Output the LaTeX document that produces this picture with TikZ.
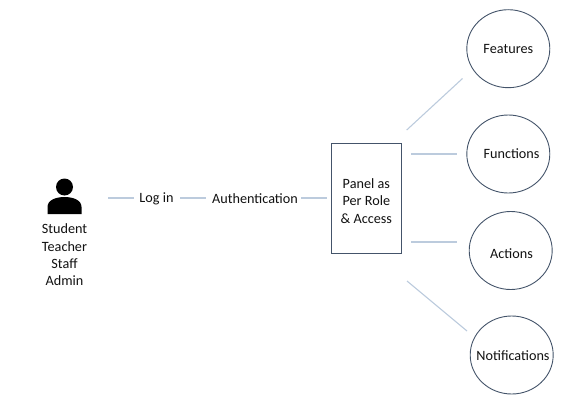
\documentclass[tikz,border=0pt]{standalone}
\usepackage{fontspec}
\setmainfont{Carlito}
\usetikzlibrary{shapes.geometric}
\definecolor{linkc}{HTML}{BCCBDD}
\definecolor{edgec}{HTML}{44546A}
\definecolor{txtc}{HTML}{111111}
\tikzset{
  x=1pt,y=-1pt,
  lbl/.style={inner sep=0pt,text=txtc,font=\fontsize{14.2}{17.3}\selectfont,align=center},
  link/.style={draw=linkc,line width=1.1pt},
  panelbox/.style={draw=edgec,line width=1pt,minimum width=70.5pt,minimum height=110pt,inner sep=0pt},
  round/.style={ellipse,draw=edgec,line width=0.9pt,minimum width=83pt,minimum height=78pt,inner sep=0pt}
}
\begin{document}
\begin{tikzpicture}
\useasboundingbox (0,0) rectangle (586,404);
% person icon
\fill[black] (64.5,187) circle (8.5);
\fill[black] (47.5,214) -- (47.5,207) .. controls (47.5,200) and (56,197) .. (64.5,197) .. controls (73,197) and (81.5,200) .. (81.5,207) -- (81.5,214) -- cycle;
\node[lbl] (users) at (64.5,255) {Student\\Teacher\\Staff\\Admin};
\node[lbl] (login) at (156.5,199) {Log in};
\node[lbl] (auth) at (255,199) {Authentication};
\node[panelbox] (panel) at (366.25,198) {};
\node[lbl] (paneltxt) at (366.3,201) {Panel as\\Per Role\\\& Access};
\node[round] (features) at (508.3,48.7) {};
\node[round] (functions) at (508.3,154) {};
\node[round] (actions) at (510.7,250.5) {};
\node[round] (notifs) at (511.7,355) {};
\node[lbl] at (508.3,49) {Features};
\node[lbl] at (511.5,154) {Functions};
\node[lbl] at (511.5,253.5) {Actions};
\node[lbl] at (513,356) {Notifications};
\coordinate (a1) at (108,198);
\coordinate (a2) at (134,198);
\coordinate (b1) at (180,198);
\coordinate (b2) at (206,198);
\coordinate (c1) at (301,198);
\coordinate (c2) at (327,198);
\coordinate (d1) at (406.7,130);
\coordinate (d2) at (462.5,78.5);
\coordinate (e1) at (411,154);
\coordinate (e2) at (457,154);
\coordinate (f1) at (411,242);
\coordinate (f2) at (457,242);
\coordinate (g1) at (407,281);
\coordinate (g2) at (467,331);
\draw[link] (a1) -- (a2);
\draw[link] (b1) -- (b2);
\draw[link] (c1) -- (c2);
\draw[link] (d1) -- (d2);
\draw[link] (e1) -- (e2);
\draw[link] (f1) -- (f2);
\draw[link] (g1) -- (g2);
\end{tikzpicture}
\end{document}
